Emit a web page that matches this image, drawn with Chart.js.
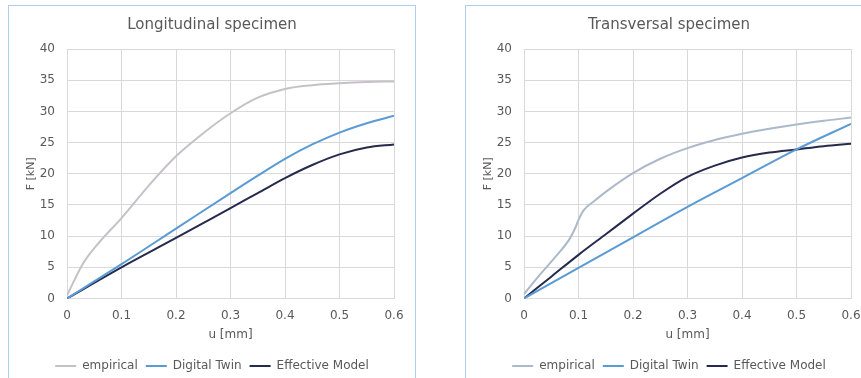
<!DOCTYPE html>
<html>
<head>
<meta charset="utf-8">
<script src="https://cdn.jsdelivr.net/npm/chart.js@4/dist/chart.umd.min.js"></script>
<style>
    html, body { margin: 0; padding: 0; background: #ffffff; overflow: hidden; }
    body { width: 861px; height: 378px; position: relative; }
    .panel {
        position: absolute;
        top: 5px;
        width: 408px;
        height: 390px;
        box-sizing: border-box;
        border: 1px solid #b0ccee;
        background: #ffffff;
    }
    .panel canvas { position: absolute; left: 0; top: 0; }
</style>
</head>
<body>
<div class="panel" style="left:8px;"><canvas id="longChart" width="406" height="380"></canvas></div>
<div class="panel" style="left:465px;"><canvas id="transChart" width="406" height="380"></canvas></div>

<script>
// Longitudinal specimen
const longEmpU = [0, 0.03, 0.06, 0.1, 0.15, 0.2, 0.25, 0.3, 0.35, 0.4, 0.45, 0.5, 0.55, 0.6];
const longEmpF = [0.5, 5.7, 9.1, 12.9, 18.1, 22.8, 26.5, 29.7, 32.2, 33.6, 34.2, 34.5, 34.7, 34.8];
const longTwinU = [0, 0.1, 0.2, 0.3, 0.35, 0.4, 0.45, 0.5, 0.55, 0.6];
const longTwinF = [0, 5.5, 11.2, 16.9, 19.7, 22.4, 24.7, 26.6, 28.1, 29.3];
const longEffU = [0, 0.1, 0.2, 0.3, 0.35, 0.4, 0.45, 0.5, 0.55, 0.6];
const longEffF = [0, 5.0, 9.7, 14.5, 16.9, 19.3, 21.4, 23.1, 24.2, 24.7];

// Transversal specimen
const transEmpU = [0, 0.03, 0.06, 0.084, 0.095, 0.1, 0.109, 0.13, 0.15, 0.2, 0.25, 0.3, 0.35, 0.4, 0.45, 0.5, 0.55, 0.6];
const transEmpF = [0.7, 3.9, 6.9, 9.6, 11.5, 12.6, 14.1, 15.7, 17.1, 20.1, 22.4, 24.1, 25.4, 26.4, 27.2, 27.9, 28.5, 29.0];
const transTwinU = [0, 0.1, 0.2, 0.3, 0.4, 0.5, 0.6];
const transTwinF = [0, 4.9, 9.8, 14.7, 19.3, 23.9, 28.0];
const transEffU = [0, 0.05, 0.1, 0.15, 0.2, 0.25, 0.3, 0.35, 0.4, 0.45, 0.5, 0.55, 0.6];
const transEffF = [0, 3.5, 7.0, 10.3, 13.6, 16.8, 19.5, 21.3, 22.6, 23.4, 23.9, 24.4, 24.8];

const seriesNames = ["empirical", "Digital Twin", "Effective Model"];
const xTicks = [0, 0.1, 0.2, 0.3, 0.4, 0.5, 0.6];
const yTicks = [0, 5, 10, 15, 20, 25, 30, 35, 40];

const textColor = "#595959";
const gridColor = "#d9d9d9";
const fontFamily = "'DejaVu Sans', sans-serif";

function toPoints(us, fs) {
    return us.map((u, i) => ({ x: u, y: fs[i] }));
}

function makeSet(label, us, fs, color) {
    return {
        label,
        data: toPoints(us, fs),
        borderColor: color,
        backgroundColor: color,
        borderWidth: 2,
        pointRadius: 0,
        cubicInterpolationMode: "monotone",
        fill: false
    };
}

function drawChart(id, title, sets) {
    const ctx = document.getElementById(id).getContext("2d");
    return new Chart(ctx, {
        type: "line",
        data: { datasets: sets },
        options: {
            responsive: false,
            animation: false,
            layout: { padding: { left: 0, right: 0, top: 0, bottom: 4 } },
            plugins: {
                title: {
                    display: true,
                    text: title,
                    color: textColor,
                    font: { family: fontFamily, size: 15, weight: "normal" },
                    padding: { top: 10, bottom: 15 }
                },
                legend: {
                    position: "bottom",
                    labels: {
                        color: textColor,
                        font: { family: fontFamily, size: 12 },
                        usePointStyle: true,
                        pointStyle: "line",
                        pointStyleWidth: 21,
                        padding: 8
                    }
                },
                tooltip: { enabled: false }
            },
            scales: {
                x: {
                    type: "linear",
                    min: 0,
                    max: 0.6,
                    afterBuildTicks: (scale) => { scale.ticks = xTicks.map(v => ({ value: v })); },
                    afterFit: (scale) => { scale.height = 53.5; },
                    grid: { color: gridColor, drawTicks: false },
                    border: { color: gridColor },
                    ticks: {
                        color: textColor,
                        padding: 10,
                        font: { family: fontFamily, size: 12 },
                        callback: (v) => String(v)
                    },
                    title: {
                        display: true,
                        text: "u [mm]",
                        color: textColor,
                        font: { family: fontFamily, size: 12 },
                        padding: { top: 0, bottom: 10 }
                    }
                },
                y: {
                    min: 0,
                    max: 40,
                    afterBuildTicks: (scale) => { scale.ticks = yTicks.map(v => ({ value: v })); },
                    afterFit: (scale) => { scale.width = 58; },
                    grid: { color: gridColor, drawTicks: false },
                    border: { color: gridColor },
                    ticks: {
                        color: textColor,
                        padding: 12,
                        font: { family: fontFamily, size: 12 }
                    },
                    title: {
                        display: true,
                        text: "F [kN]",
                        color: textColor,
                        font: { family: fontFamily, size: 11 },
                        padding: { top: 16, bottom: 0 }
                    }
                },
                // empty right gutter so title and legend stay centred on the whole panel
                gutter: {
                    type: "linear",
                    position: "right",
                    display: true,
                    afterFit: (scale) => { scale.width = 21; },
                    grid: { display: false },
                    border: { display: false },
                    ticks: { display: false }
                }
            }
        }
    });
}

drawChart("longChart", "Longitudinal specimen", [
    makeSet(seriesNames[0], longEmpU, longEmpF, "#c6c1c9"),
    makeSet(seriesNames[1], longTwinU, longTwinF, "#5b9bd5"),
    makeSet(seriesNames[2], longEffU, longEffF, "#262b4d")
]);

drawChart("transChart", "Transversal specimen", [
    makeSet(seriesNames[0], transEmpU, transEmpF, "#adb9ca"),
    makeSet(seriesNames[1], transTwinU, transTwinF, "#5b9bd5"),
    makeSet(seriesNames[2], transEffU, transEffF, "#262b4d")
]);
</script>
</body>
</html>
